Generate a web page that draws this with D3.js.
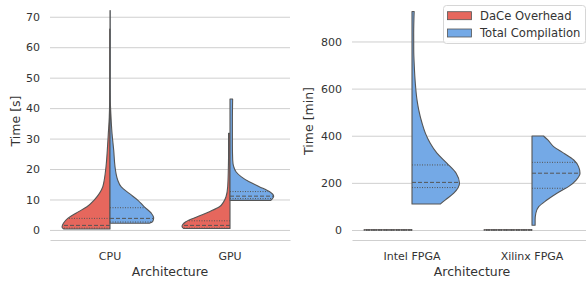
<!DOCTYPE html>
<html>
<head>
<meta charset="utf-8">
<script src="https://cdn.jsdelivr.net/npm/d3@7"></script>
<style>
  body { margin: 0; background: #fff; }
  text { font-family: 'DejaVu Sans', sans-serif; fill: #333; }
</style>
</head>
<body>
<div id="chart"></div>
<script>
// Categories and legend entries.
var archLeft = ['CPU', 'GPU'];
var archRight = ['Intel FPGA', 'Xilinx FPGA'];
var hues = ['DaCe Overhead', 'Total Compilation'];
var hueColors = ['#e6675d', '#74a9e6'];

// Tick labels of the two y-axes.
var ticksLeft = [0, 10, 20, 30, 40, 50, 60, 70];
var ticksRight = [0, 200, 400, 600, 800];

// Violin outlines: [time, relative density].
var cpuOverhead = [[0.3, 0.96], [1.0, 1.0], [2.2, 0.97], [3.8, 0.88], [5.5, 0.71], [7.6, 0.48], [9.8, 0.33],
    [12.0, 0.22], [14.2, 0.15], [16.4, 0.12], [20.8, 0.083], [26.2, 0.056], [31.7, 0.035], [37.1, 0.015],
    [42, 0.008], [50, 0.006], [66, 0.005]];
var cpuTotal = [[2.2, 0.82], [2.8, 0.89], [4.0, 0.91], [5.5, 0.86], [7.6, 0.715], [9.8, 0.577], [12.0, 0.40],
    [14.2, 0.23], [16.4, 0.16], [18.6, 0.125], [20.8, 0.104], [26.2, 0.077], [31.7, 0.042], [37.1, 0.021],
    [42.6, 0.007], [50, 0.005], [72, 0.005]];
var gpuOverhead = [[0.5, 0.97], [1.1, 1.0], [2.7, 0.92], [4.4, 0.67], [6.0, 0.43], [7.6, 0.22], [9.3, 0.13],
    [10.9, 0.083], [14.2, 0.048], [19.7, 0.035], [25.1, 0.03], [31.7, 0.03]];
var gpuTotal = [[9.7, 0.85], [10.4, 0.89], [11.1, 0.91], [12.6, 0.82], [14.2, 0.61], [15.8, 0.40], [17.5, 0.23],
    [19.1, 0.125], [20.8, 0.077], [23, 0.056], [28, 0.05], [36, 0.05], [43, 0.055]];
var intelOverhead = [[0, 1.0], [1, 1.0]];
var intelTotal = [[110, 0.59], [127, 0.69], [156, 0.87], [198, 0.99], [241, 0.92], [283, 0.73], [326, 0.52],
    [368, 0.38], [410, 0.28], [453, 0.21], [510, 0.14], [552, 0.104], [623, 0.069], [694, 0.048],
    [764, 0.036], [835, 0.035], [927, 0.045]];
var xilinxOverhead = [[0, 1.0], [1, 1.0]];
var xilinxTotal = [[20, 0.065], [42, 0.065], [71, 0.08], [99, 0.14], [127, 0.31], [156, 0.52], [184, 0.76],
    [212, 0.92], [241, 1.0], [269, 0.97], [297, 0.87], [326, 0.66], [354, 0.45], [382, 0.33], [399, 0.24]];

// Quartiles [q1, median, q3] for each half violin.
var cpuOverheadQ = [0.6, 1.5, 3.8];
var cpuTotalQ = [2.6, 3.8, 7.3];
var gpuOverheadQ = [0.6, 1.5, 3.0];
var gpuTotalQ = [10.3, 11.1, 12.6];
var intelOverheadQ = [0, 0, 0];
var intelTotalQ = [180, 202, 276];
var xilinxOverheadQ = [0, 0, 0];
var xilinxTotalQ = [177, 241, 287];

var width = 586,
    height = 281;

var svg = d3.select('#chart')
    .append('svg')
        .attr('width', width)
        .attr('height', height);

var panels = [
    {
        cats: archLeft, ticks: ticksLeft, label: 'Time [s]',
        xRange: [50, 290], yDomain: [-3.3, 75.5], labelX: 16, titleX: 170,
        violins: [
            [[cpuOverhead, cpuOverheadQ], [cpuTotal, cpuTotalQ]],
            [[gpuOverhead, gpuOverheadQ], [gpuTotal, gpuTotalQ]]
        ]
    },
    {
        cats: archRight, ticks: ticksRight, label: 'Time [min]',
        xRange: [352, 592], yDomain: [-42.5, 976], labelX: 309, titleX: 472,
        violins: [
            [[intelOverhead, intelOverheadQ], [intelTotal, intelTotalQ]],
            [[xilinxOverhead, xilinxOverheadQ], [xilinxTotal, xilinxTotalQ]]
        ]
    }
];

var plotBottom = 240;

panels.forEach(function(p){
    var x = d3.scaleBand()
        .domain(p.cats)
        .range(p.xRange);

    var y = d3.scaleLinear()
        .domain(p.yDomain)
        .range([plotBottom, 0]);

    var w = d3.scaleLinear()
        .domain([0, 1])
        .range([0, x.bandwidth() * 0.4]);

    // Gridlines and y tick labels.
    var yAxis = svg.append('g')
        .attr('transform', 'translate(' + p.xRange[0] + ', 0)')
        .call(d3.axisLeft(y).tickValues(p.ticks).tickSize(-(p.xRange[1] - p.xRange[0])).tickPadding(10));
    yAxis.select('.domain').remove();
    yAxis.selectAll('line').attr('stroke', '#cfcfcf').attr('stroke-width', 1);
    yAxis.selectAll('text').style('font-size', '11px').attr('fill', '#333');

    // Bottom spine and category labels.
    var xAxis = svg.append('g')
        .attr('transform', 'translate(0, ' + plotBottom + ')')
        .call(d3.axisBottom(x).tickSize(0).tickPadding(12));
    xAxis.select('.domain').attr('stroke', '#cfcfcf').attr('stroke-width', 1);
    xAxis.selectAll('text').style('font-size', '11px').attr('fill', '#333');

    // Axis titles.
    svg.append('text')
        .attr('x', p.titleX)
        .attr('y', 276)
        .attr('text-anchor', 'middle')
        .style('font-size', '12.5px')
        .text('Architecture');

    svg.append('text')
        .attr('transform', 'translate(' + p.labelX + ', 121) rotate(-90)')
        .attr('text-anchor', 'middle')
        .attr('dy', '0.35em')
        .style('font-size', '12.5px')
        .text(p.label);

    // Split violins: left half = overhead, right half = total.
    p.cats.forEach(function(cat, ci){
        var cx = x(cat) + x.bandwidth() / 2;
        p.violins[ci].forEach(function(v, hi){
            var prof = v[0], quart = v[1];
            var sign = hi === 0 ? -1 : 1;
            var area = d3.area()
                .y(function(d){ return y(d[0]); })
                .x0(cx)
                .x1(function(d){ return cx + sign * w(d[1]); })
                .curve(d3.curveMonotoneY);

            svg.append('path')
                .datum(prof)
                .attr('d', area)
                .attr('fill', hueColors[hi])
                .attr('stroke', '#555')
                .attr('stroke-width', 1.1)
                .attr('stroke-linejoin', 'round');

            // Interpolate half width at a given value.
            var vals = prof.map(function(d){ return d[0]; });
            var dens = prof.map(function(d){ return d[1]; });
            var interp = d3.scaleLinear().domain(vals).range(dens).clamp(true);

            quart.forEach(function(q, qi){
                svg.append('line')
                    .attr('x1', cx)
                    .attr('x2', cx + sign * w(interp(q)))
                    .attr('y1', y(q))
                    .attr('y2', y(q))
                    .attr('stroke', '#555')
                    .attr('stroke-width', 1)
                    .attr('stroke-dasharray', qi === 1 ? '4,2' : '1,1.5');
            });
        });
    });
});

// Legend.
var legend = svg.append('g');
legend.append('rect')
    .attr('x', 443.5)
    .attr('y', 5.5)
    .attr('width', 142)
    .attr('height', 38)
    .attr('rx', 3)
    .attr('fill', '#fff')
    .attr('fill-opacity', 0.85)
    .attr('stroke', '#d6d6d6');

hues.forEach(function(h, i){
    var cy = 15.7 + i * 17.3;
    legend.append('rect')
        .attr('x', 447.5)
        .attr('y', cy - 4)
        .attr('width', 24)
        .attr('height', 8)
        .attr('fill', hueColors[i])
        .attr('stroke', '#555')
        .attr('stroke-width', 0.8);
    legend.append('text')
        .attr('x', 480)
        .attr('y', cy)
        .attr('dy', '0.35em')
        .style('font-size', '11.6px')
        .text(h);
});
</script>
</body>
</html>
